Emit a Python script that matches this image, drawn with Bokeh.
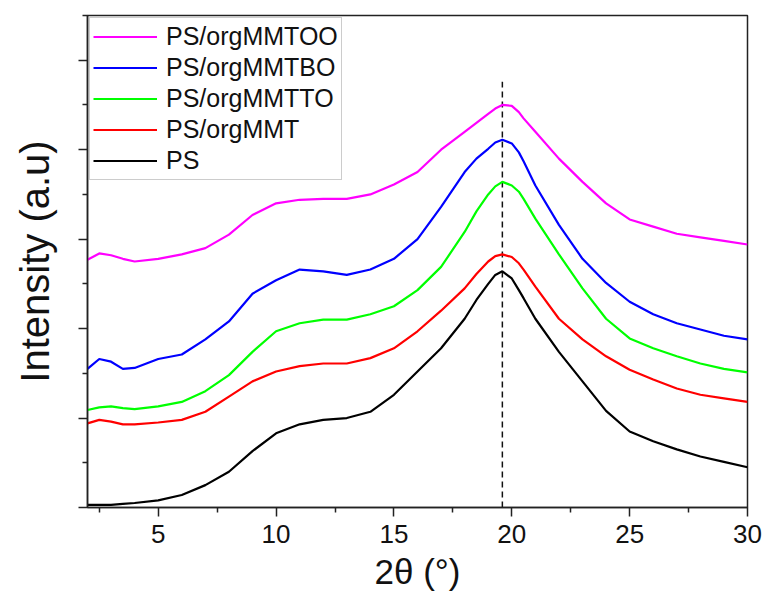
from bokeh.plotting import figure
from bokeh.models import Range1d, FixedTicker, Legend, LegendItem, CustomJSTickFormatter
from bokeh.embed import file_html
from bokeh.resources import INLINE

# ---- data (2theta in degrees, intensity in a.u.) ----
two_theta = [2, 2.5, 3, 3.5, 4, 5, 6, 7, 8, 9, 10, 11, 12, 13, 14, 15, 16, 17, 18,
             18.5, 19, 19.3, 19.6, 20, 20.3, 20.5, 21, 22, 23, 24, 25, 26, 27, 28, 29, 30]

ps = [0.03, 0.03, 0.03, 0.04, 0.05, 0.08, 0.14, 0.25, 0.40, 0.63, 0.83, 0.93, 0.98,
      1.00, 1.07, 1.26, 1.52, 1.78, 2.11, 2.32, 2.50, 2.60, 2.64, 2.56, 2.43, 2.34,
      2.11, 1.74, 1.41, 1.08, 0.85, 0.74, 0.65, 0.57, 0.51, 0.45]

ps_orgmmt = [0.94, 0.98, 0.96, 0.93, 0.93, 0.95, 0.98, 1.07, 1.24, 1.41, 1.52, 1.58,
             1.61, 1.61, 1.67, 1.78, 1.97, 2.20, 2.45, 2.61, 2.75, 2.81, 2.83, 2.80,
             2.73, 2.66, 2.47, 2.11, 1.88, 1.69, 1.54, 1.43, 1.33, 1.26, 1.22, 1.18]

ps_orgmmtto = [1.09, 1.12, 1.13, 1.11, 1.10, 1.13, 1.18, 1.30, 1.48, 1.74, 1.97, 2.06,
               2.10, 2.10, 2.16, 2.25, 2.43, 2.69, 3.08, 3.31, 3.50, 3.59, 3.64, 3.60,
               3.53, 3.45, 3.23, 2.83, 2.45, 2.11, 1.89, 1.78, 1.69, 1.61, 1.55, 1.51]

ps_orgmmtbo = [1.55, 1.66, 1.63, 1.55, 1.56, 1.66, 1.71, 1.88, 2.08, 2.39, 2.54, 2.66,
               2.64, 2.60, 2.66, 2.78, 3.00, 3.36, 3.75, 3.90, 4.01, 4.08, 4.11, 4.07,
               3.97, 3.87, 3.60, 3.16, 2.78, 2.51, 2.30, 2.16, 2.06, 1.99, 1.92, 1.88]

ps_orgmmtoo = [2.77, 2.84, 2.82, 2.78, 2.75, 2.78, 2.83, 2.90, 3.05, 3.27, 3.40, 3.44,
               3.45, 3.45, 3.50, 3.61, 3.75, 4.00, 4.20, 4.30, 4.40, 4.46, 4.50, 4.49,
               4.42, 4.35, 4.20, 3.90, 3.64, 3.40, 3.22, 3.14, 3.06, 3.02, 2.98, 2.94]

series_names = ["PS/orgMMTOO", "PS/orgMMTBO", "PS/orgMMTTO", "PS/orgMMT", "PS"]
series_values = [ps_orgmmtoo, ps_orgmmtbo, ps_orgmmtto, ps_orgmmt, ps]
series_colors = ["#FF00FF", "#0000FF", "#00FF00", "#FF0000", "#000000"]

x_major_ticks = [5, 10, 15, 20, 25, 30]
x_minor_ticks = [2.5, 7.5, 12.5, 17.5, 22.5, 27.5]
y_major_ticks = [0, 1, 2, 3, 4, 5]
y_minor_ticks = [0.5, 1.5, 2.5, 3.5, 4.5, 5.5]

peak_x = 19.6      # position of the dashed reference line
peak_line_top = 4.76

FONT = "Liberation Sans"

p = figure(width=764, height=601, output_backend="svg", toolbar_location=None,
           x_range=Range1d(2, 30), y_range=Range1d(0, 5.5),
           min_border_left=87, min_border_right=17, min_border_top=15,
           min_border_bottom=94)
p.grid.visible = False
p.background_fill_color = "white"
p.border_fill_color = "white"
p.outline_line_color = "#222222"
p.outline_line_width = 1.5

# axes
for ax in (p.xaxis[0], p.yaxis[0]):
    ax.axis_line_color = "#222222"
    ax.axis_line_width = 1.5
    ax.major_tick_line_color = "#222222"
    ax.minor_tick_line_color = "#222222"
    ax.major_tick_line_width = 1.5
    ax.minor_tick_line_width = 1.5
    ax.major_tick_in = 0
    ax.major_tick_out = 9
    ax.minor_tick_in = 0
    ax.minor_tick_out = 5

p.xaxis.ticker = FixedTicker(ticks=x_major_ticks, minor_ticks=x_minor_ticks)
p.yaxis.ticker = FixedTicker(ticks=y_major_ticks, minor_ticks=y_minor_ticks)
p.xaxis.major_label_text_font = FONT
p.xaxis.major_label_text_font_size = "26px"
p.xaxis.major_label_text_color = "#111111"
p.xaxis.major_label_standoff = 8
p.xaxis.axis_label = "2θ (°)"
p.xaxis.axis_label_text_font = FONT
p.xaxis.axis_label_text_font_size = "35px"
p.xaxis.axis_label_text_font_style = "normal"
p.xaxis.axis_label_text_color = "#111111"
p.xaxis.axis_label_standoff = 6

p.yaxis.formatter = CustomJSTickFormatter(code="return ''")
p.yaxis.major_label_standoff = 0
p.yaxis.axis_label = "Intensity (a.u)"
p.yaxis.axis_label_text_font = FONT
p.yaxis.axis_label_text_font_size = "40px"
p.yaxis.axis_label_text_font_style = "normal"
p.yaxis.axis_label_text_color = "#111111"
p.yaxis.axis_label_standoff = 22

# dashed reference line at the main peak
p.segment(x0=[peak_x], y0=[0], x1=[peak_x], y1=[peak_line_top],
          line_color="#111111", line_width=1.5, line_dash="6 4")

renderers = {}
for name, vals, col in reversed(list(zip(series_names, series_values, series_colors))):
    renderers[name] = p.line(two_theta, vals, line_color=col, line_width=2.2)

legend = Legend(items=[LegendItem(label=n, renderers=[renderers[n]]) for n in series_names],
                location="top_left")
legend.margin = 2
legend.padding = 3
legend.spacing = 0
legend.label_height = 31
legend.glyph_height = 31
legend.glyph_width = 64
legend.label_standoff = 9
legend.label_text_font = FONT
legend.label_text_font_size = "25px"
legend.label_text_color = "#111111"
legend.border_line_color = "#999999"
legend.border_line_width = 1
legend.background_fill_color = "white"
legend.background_fill_alpha = 1.0
p.add_layout(legend)

open("out.html", "w").write(file_html(p, INLINE))
